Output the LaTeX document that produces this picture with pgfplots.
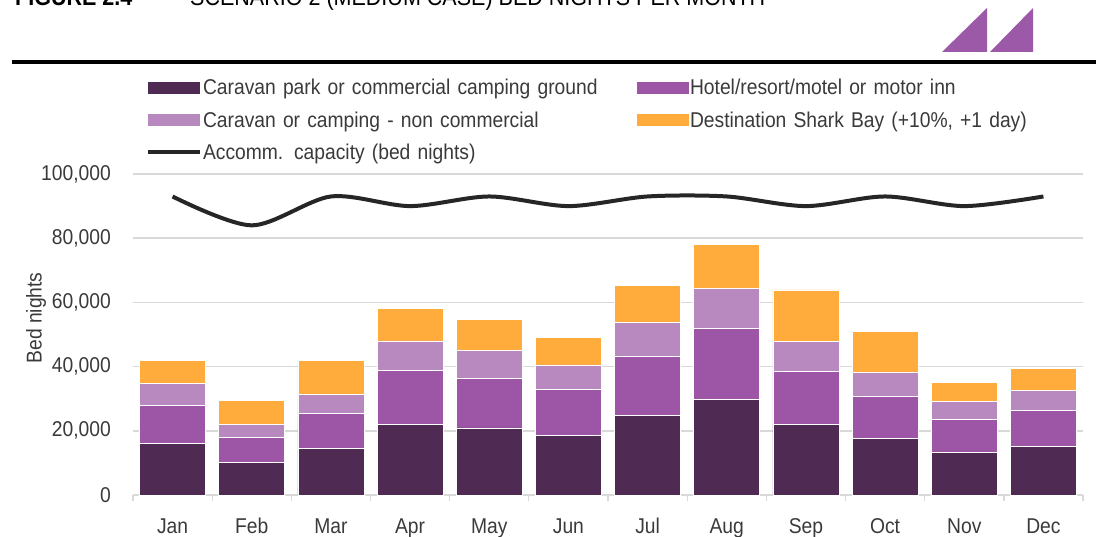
\documentclass[border=0pt]{standalone}
\usepackage{fontspec}
\setmainfont{Liberation Sans}[FakeStretch=0.9]
\usepackage{pgfplots}
\pgfplotsset{compat=1.18}
\definecolor{cdark}{HTML}{4F2A52}
\definecolor{cmid}{HTML}{9C56A5}
\definecolor{clight}{HTML}{B789BF}
\definecolor{corange}{HTML}{FFAC3C}
\definecolor{linec}{HTML}{262626}
\definecolor{gridc}{HTML}{D9D9D9}
\definecolor{txt}{HTML}{3A3A3A}
\definecolor{logo}{HTML}{9B59A8}
\newcommand\cf{\fontsize{21.5}{25}\selectfont}
\newcommand\hf{\fontsize{24}{28}\selectfont}

\begin{document}
\begin{tikzpicture}[x=1bp,y=1bp]
% header strip (cut off at the top like the source)
\node[anchor=base west, inner sep=0, font=\hf\bfseries] at (15,-6) {FIGURE 2.4};
\node[anchor=base west, inner sep=0, font=\hf] at (190,-6) {SCENARIO 2 (MEDIUM CASE) BED NIGHTS PER MONTH};
\draw[line width=3.5bp] (12,-62) -- (1096,-62);
\fill[logo] (942,-52) -- (987,-8) -- (987,-52) -- cycle;
\fill[logo] (990,-52) -- (1033,-8) -- (1033,-52) -- cycle;
\node[rotate=90, font=\cf, text=txt] at (36,-318) {Bed nights};

\begin{axis}[
  at={(133bp,-495bp)}, anchor=south west,
  width=950bp, height=321bp, scale only axis,
  ybar stacked, bar width=66bp,
  xmin=-0.5, xmax=11.5, ymin=0, ymax=100000,
  xtick={0,...,11},
  xticklabels={Jan,Feb,Mar,Apr,May,Jun,Jul,Aug,Sep,Oct,Nov,Dec},
  minor xtick={-0.5,0.5,...,11.5},
  ytick={0,20000,...,100000},
  scaled y ticks=false,
  /pgf/number format/fixed, /pgf/number format/precision=0,
  /pgf/number format/1000 sep={,}, /pgf/number format/assume math mode=true,
  axis line style={draw=none},
  xtick pos=bottom, xtick align=outside,
  major tick length=0pt, minor tick length=6bp,
  minor tick style={gridc, line width=1.3bp},
  ytick style={draw=none},
  ymajorgrids, grid style={gridc, line width=1.5bp},
  ticklabel style={font=\cf, text=txt},
  xticklabel style={anchor=base, inner sep=0pt, yshift=-38bp},
  yticklabel style={anchor=east, inner sep=0pt, xshift=-22bp},
  legend columns=2,
  legend style={at={(rel axis cs:0.0137,1.296)}, anchor=north west,
    draw=none, fill=none, inner sep=0pt, outer sep=0pt,
    /tikz/column sep=1bp, /tikz/row sep=12.5bp,
    font=\cf, text=txt,
    nodes={inner sep=0pt, text height=16bp, text depth=4bp, text width=433bp, align=left}},
  legend cell align=left,
  barleg/.style={legend image code/.code={\fill[##1,draw=none] (0bp,-5bp) rectangle (52bp,7bp);}},
  every axis plot/.append style={draw=white, line width=0.6bp},
]
\addplot[fill=cdark, barleg] coordinates {
  (0,16000)(1,10200)(2,14450)(3,22100)(4,20900)(5,18600)
  (6,24900)(7,29700)(8,22100)(9,17550)(10,13200)(11,15050)};
\addlegendentry{Caravan park or commercial camping ground}
\addplot[fill=cmid, barleg] coordinates {
  (0,11900)(1,7650)(2,11000)(3,16630)(4,15550)(5,14200)
  (6,18400)(7,22100)(8,16500)(9,13050)(10,10300)(11,11250)};
\addlegendentry{Hotel/resort/motel or motor inn}
\addplot[fill=clight, barleg] coordinates {
  (0,6800)(1,4050)(2,5900)(3,9250)(4,8600)(5,7700)
  (6,10500)(7,12600)(8,9200)(9,7500)(10,5600)(11,6200)};
\addlegendentry{Caravan or camping - non commercial}
\addplot[fill=corange, barleg] coordinates {
  (0,7300)(1,7600)(2,10500)(3,10170)(4,9650)(5,8500)
  (6,11500)(7,13600)(8,16100)(9,12800)(10,6100)(11,6950)};
\addlegendentry{Destination Shark Bay (+10\%, +1 day)}
\addlegendimage{legend image code/.code={\draw[linec, line width=4bp] (0bp,2bp) -- (52bp,2bp);}}
\addlegendentry{Accomm. capacity (bed nights)}
\end{axis}

\begin{axis}[
  at={(133bp,-495bp)}, anchor=south west,
  width=950bp, height=321bp, scale only axis,
  xmin=-0.5, xmax=11.5, ymin=0, ymax=100000,
  hide axis,
]
\addplot[linec, line width=4bp, smooth, mark=none] coordinates {
  (0,93000)(1,84000)(2,93000)(3,90000)(4,93000)(5,90000)
  (6,93000)(7,93000)(8,90000)(9,93000)(10,90000)(11,93000)};
\end{axis}

\pgfresetboundingbox
\useasboundingbox (0,0) rectangle (1096,-537);
\end{tikzpicture}
\end{document}
